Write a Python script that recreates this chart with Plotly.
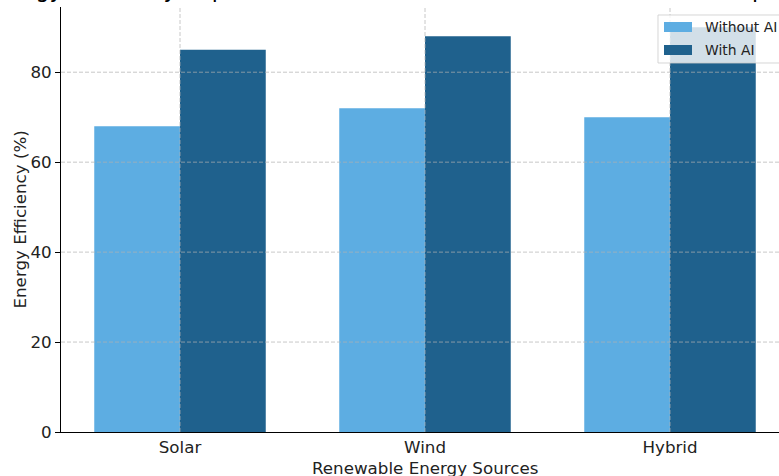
import plotly.graph_objects as go

# ---- data ----
CATEGORIES = ["Solar", "Wind", "Hybrid"]
WITHOUT_AI = [68, 72, 70]
WITH_AI = [85, 88, 90]
SERIES_NAMES = ["Without AI", "With AI"]
Y_TICKS = [0, 20, 40, 60, 80]
TITLE = "Energy Efficiency Improvement in Renewable Sources via AI-Based Optimization"
X_LABEL = "Renewable Energy Sources"
Y_LABEL = "Energy Efficiency (%)"

COLORS = ["#5DADE2", "#1F618D"]
FONT = "DejaVu Sans"

W, H = 779, 476
L, R, T, B = 61, 0, 7, 44
PW, PH = W - L - R, H - T - B


def px_x(p):
    return (p - L) / PW


def px_y(p):
    return (H - B - p) / PH


fig = go.Figure()
for name, vals, col in zip(SERIES_NAMES, [WITHOUT_AI, WITH_AI], COLORS):
    fig.add_trace(go.Bar(x=CATEGORIES, y=vals, name=name, marker=dict(color=col, line=dict(width=0)),
                         showlegend=False))

shapes = []
grid = dict(color="rgba(176,176,176,0.7)", width=1, dash="4px,2px")
for v in Y_TICKS[1:]:
    shapes.append(dict(type="line", xref="paper", yref="y", x0=0, x1=1, y0=v, y1=v, line=grid, layer="above"))
for i, _ in enumerate(CATEGORIES):
    shapes.append(dict(type="line", xref="x", yref="paper", x0=i, x1=i, y0=0, y1=1, line=grid, layer="above"))

# legend box (drawn manually to mimic wide patches)
shapes.append(dict(type="rect", xref="paper", yref="paper", x0=px_x(658), x1=px_x(782), y0=px_y(63), y1=px_y(15),
                   fillcolor="rgba(255,255,255,0.8)", line=dict(color="rgba(204,204,204,0.8)", width=1), layer="above"))
annotations = []
for k, (name, col) in enumerate(zip(SERIES_NAMES, COLORS)):
    yc = 27 + 23 * k
    shapes.append(dict(type="rect", xref="paper", yref="paper", x0=px_x(664), x1=px_x(692), y0=px_y(yc + 5),
                       y1=px_y(yc - 5), fillcolor=col, line=dict(width=0), layer="above"))
    annotations.append(dict(text=name, xref="paper", yref="paper", x=px_x(703), y=px_y(yc), xanchor="left",
                            yanchor="middle", showarrow=False, font=dict(family=FONT, size=13.9, color="#222")))

annotations.append(dict(text=TITLE, xref="paper", yref="paper", x=px_x(431), y=px_y(4.5), xanchor="center",
                        yanchor="bottom", showarrow=False, font=dict(family=FONT, size=22.2, color="#000")))
annotations.append(dict(text=X_LABEL, xref="paper", yref="paper", x=px_x(425), y=px_y(468), xanchor="center",
                        yanchor="middle", showarrow=False, font=dict(family=FONT, size=16.7, color="#222")))
annotations.append(dict(text=Y_LABEL, xref="paper", yref="paper", x=px_x(19), y=px_y(219.5), xanchor="center",
                        yanchor="middle", textangle=-90, showarrow=False,
                        font=dict(family=FONT, size=16.7, color="#222")))

fig.update_layout(
    width=W, height=H,
    margin=dict(l=L, r=R, t=T, b=B, autoexpand=False),
    paper_bgcolor="white", plot_bgcolor="white",
    barmode="group", bargap=0.3, bargroupgap=0,
    font=dict(family=FONT, size=16.7, color="#222"),
    shapes=shapes, annotations=annotations,
    showlegend=False,
    xaxis=dict(range=[-0.4857, 2.4449], showgrid=False, zeroline=False, showline=True, linecolor="#000",
               linewidth=1.1, ticks="", tickfont=dict(family=FONT, size=16.7, color="#222")),
    yaxis=dict(range=[0, 94.5], tickvals=Y_TICKS, showgrid=False, zeroline=False, showline=True,
               linecolor="#000", linewidth=1.1, ticks="outside", ticklen=5, tickcolor="#000", tickwidth=1,
               tickfont=dict(family=FONT, size=16.7, color="#222")),
)

fig.write_html("out.html")
